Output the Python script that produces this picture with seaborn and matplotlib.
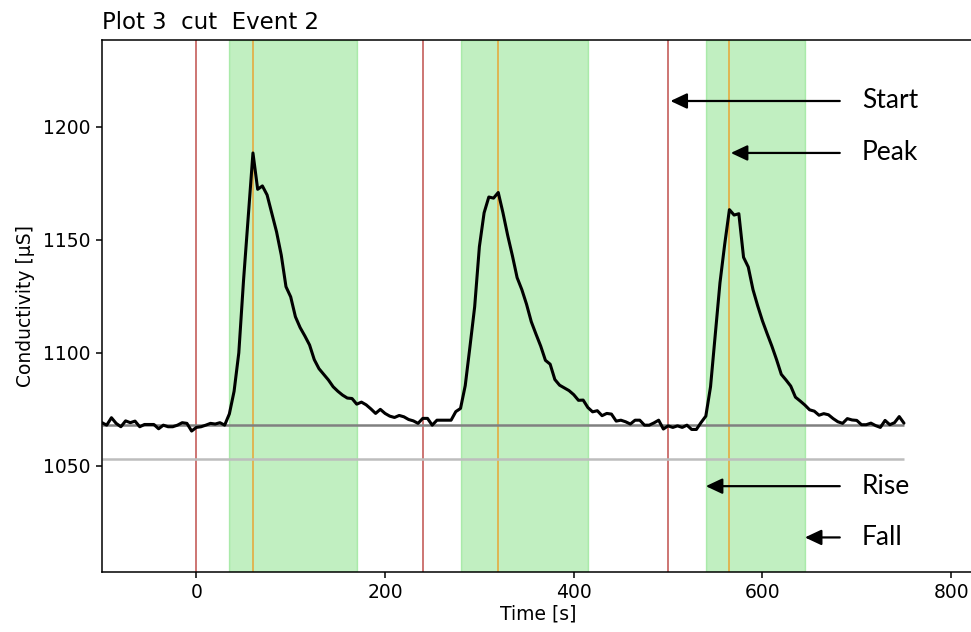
import matplotlib
matplotlib.use("Agg")
import matplotlib.pyplot as plt
import seaborn as sns
import pandas as pd

# ---------------- data ----------------
time_s = list(range(-100, 755, 5))
conductivity = [
    1069.1, 1068.0, 1071.3, 1068.8, 1067.3, 1069.9, 1069.1, 1069.8, 1067.3, 1068.3,
    1068.3, 1068.3, 1066.4, 1068.0, 1067.3, 1067.3, 1068.0, 1069.1, 1068.8, 1065.4,
    1067.0, 1067.3, 1068.0, 1068.8, 1068.5, 1069.1, 1068.0, 1073.0, 1083.0, 1100.0,
    1132.0, 1160.0, 1188.5, 1172.4, 1173.9, 1169.9, 1161.8, 1153.6, 1143.3, 1129.3,
    1124.8, 1116.0, 1111.2, 1107.5, 1103.5, 1097.0, 1093.0, 1090.5, 1088.0, 1085.0,
    1083.0, 1081.3, 1080.0, 1079.8, 1077.3, 1078.2, 1077.0, 1075.2, 1073.2, 1075.0,
    1073.2, 1072.0, 1071.4, 1072.3, 1071.7, 1070.5, 1069.9, 1068.8, 1071.0, 1071.0,
    1068.0, 1070.2, 1070.2, 1070.2, 1070.2, 1074.0, 1075.4, 1085.5, 1102.7, 1120.4,
    1147.0, 1162.0, 1169.0, 1168.5, 1171.0, 1162.0, 1152.0, 1143.0, 1133.3, 1128.0,
    1121.5, 1113.8, 1108.3, 1103.0, 1096.7, 1095.0, 1088.2, 1085.7, 1084.5, 1083.3,
    1081.5, 1079.0, 1079.1, 1075.8, 1073.9, 1074.4, 1072.2, 1073.2, 1072.9, 1069.8,
    1070.2, 1069.5, 1068.5, 1070.2, 1070.2, 1068.0, 1068.0, 1069.0, 1070.2, 1066.3,
    1067.7, 1067.0, 1067.7, 1067.0, 1068.0, 1066.1, 1066.1, 1069.2, 1072.0, 1085.0,
    1108.0, 1131.0, 1148.0, 1163.4, 1161.0, 1161.6, 1142.3, 1138.0, 1128.0, 1120.8,
    1114.2, 1108.5, 1103.0, 1097.0, 1090.5, 1088.0, 1085.3, 1080.4, 1078.7, 1076.9,
    1074.8, 1074.2, 1072.4, 1073.1, 1072.6, 1070.9, 1069.5, 1068.8, 1070.9, 1070.3,
    1070.1, 1068.2, 1068.2, 1068.9, 1067.8, 1067.0, 1070.1, 1068.2, 1069.1, 1071.8,
    1068.9,
]
assert len(time_s) == len(conductivity)

event_start = [0, 240, 500]
event_peak = [60, 320, 565]
event_rise = [35, 280, 540]
event_fall = [170, 415, 645]

baseline_level = 1068.0
threshold_level = 1053.0

x_ticks = [0, 200, 400, 600, 800]
y_ticks = [1050, 1100, 1150, 1200]

title_text = "Plot 3  cut  Event 2"
x_label = "Time [s]"
y_label = "Conductivity [µS]"

# annotation labels: (text, arrow tip x, arrow tail x, y)
ann_labels = ["Start", "Peak", "Rise", "Fall"]
ann_tip_x = [502.5, 566.5, 540.0, 645.0]
ann_tail_x = [682.0, 682.0, 682.0, 682.0]
ann_y = [1211.5, 1188.5, 1041.0, 1018.3]
ann_text_x = 705.5

df = pd.DataFrame({"Time": time_s, "Conductivity": conductivity})

# ---------------- style ----------------
sns.set_theme(style="ticks")
plt.rcParams["font.family"] = ["DejaVu Sans"]
plt.rcParams["axes.edgecolor"] = "black"
plt.rcParams["axes.linewidth"] = 1.1
plt.rcParams["xtick.color"] = "black"
plt.rcParams["ytick.color"] = "black"
plt.rcParams["text.color"] = "black"
plt.rcParams["axes.labelcolor"] = "black"
plt.rcParams["axes.titlecolor"] = "black"

fig = plt.figure(figsize=(9.71, 6.32), dpi=100)
ax = fig.add_axes([102 / 971, 60 / 632, (974.7 - 102) / 971, 532 / 632])

# spans (rise -> fall)
for r, f in zip(event_rise, event_fall):
    ax.axvspan(r, f, color="limegreen", alpha=0.3, zorder=0.5)

for s in event_start:
    ax.axvline(s, color="#c0504d", lw=1.1, zorder=1.5)
for p in event_peak:
    ax.axvline(p, color="#e8a535", lw=1.1, zorder=1.5)

tmin, tmax = min(time_s), max(time_s)
ax.hlines(baseline_level, tmin, tmax, color="#808080", lw=1.8, zorder=2)
ax.hlines(threshold_level, tmin, tmax, color="#bdbdbd", lw=1.8, zorder=2)

sns.lineplot(data=df, x="Time", y="Conductivity", color="black", lw=2.2,
             ax=ax, zorder=3)

ax.set_xlim(-100, 825)
ax.set_ylim(1003, 1238.5)
ax.set_xticks(x_ticks)
ax.set_yticks(y_ticks)
ax.tick_params(labelsize=13.5, length=4.5, width=1.1)
ax.set_xlabel(x_label, fontsize=13.5, labelpad=2)
ax.set_ylabel(y_label, fontsize=13.5, labelpad=6)
ax.set_title(title_text, loc="left", fontsize=16.5, pad=8)

for lab, tip, tail, y in zip(ann_labels, ann_tip_x, ann_tail_x, ann_y):
    ax.annotate("", xy=(tip, y), xytext=(tail, y),
                arrowprops=dict(arrowstyle="-|>,head_length=1.0,head_width=0.47",
                                mutation_scale=10, lw=1.6, color="black",
                                shrinkA=0, shrinkB=0), zorder=4)
    ax.text(ann_text_x, y, lab, ha="left", va="center", fontsize=19,
            family=["Lato", "DejaVu Sans"], color="black", zorder=4)

fig.savefig("out.png", dpi=100)
